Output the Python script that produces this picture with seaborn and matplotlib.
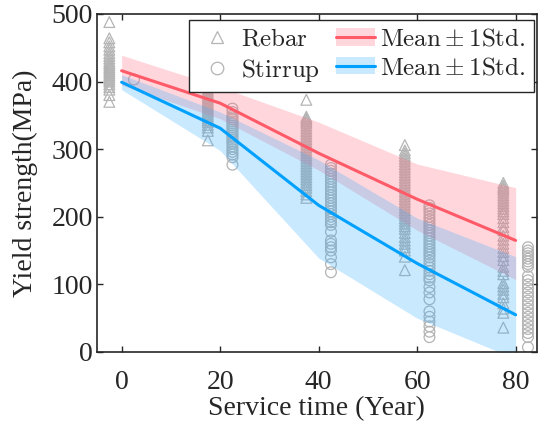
import numpy as np
import pandas as pd
import matplotlib
matplotlib.use("Agg")
import matplotlib.pyplot as plt
import seaborn as sns
from matplotlib.patches import Patch
from matplotlib.lines import Line2D

# ---------------- data ----------------
years = [0, 20, 40, 60, 80]

rebar_y0 = [488, 464, 458, 452, 447, 442, 438, 434, 430, 427, 424, 421, 418, 415,
            412, 409, 406, 403, 400, 396, 392, 388, 380, 370]
rebar_y20 = [398, 392, 388, 385, 382, 379, 376, 373, 370, 367, 364, 361, 358, 355,
             352, 349, 346, 343, 340, 336, 332, 327, 313]
rebar_y40 = [373, 348, 345, 342, 339, 335, 331, 327, 323, 319, 315, 311, 307, 303,
             299, 295, 291, 287, 283, 279, 275, 271, 267, 263, 259, 255, 251, 247,
             243, 238, 233, 228]
rebar_y60 = [306, 298, 294, 290, 286, 282, 278, 274, 270, 266, 262, 258, 254, 250,
             246, 242, 238, 234, 230, 226, 222, 218, 214, 210, 206, 202, 198, 194,
             190, 186, 182, 176, 170, 165, 160, 155, 150, 141, 121]
rebar_y80 = [250, 246, 243, 240, 236, 232, 228, 224, 220, 216, 212, 208, 204, 198,
             192, 185, 180, 172, 166, 160, 154, 148, 142, 136, 126, 120, 115, 102,
             97, 92, 86, 81, 72, 64, 58, 36]

stirrup_y0 = [403]
stirrup_y20 = [360, 355, 350, 347, 344, 341, 338, 335, 332, 329, 326, 323, 320, 317,
               314, 311, 308, 304, 300, 296, 292, 288, 277]
stirrup_y40 = [277, 272, 268, 264, 260, 256, 252, 248, 244, 240, 236, 232, 228, 224,
               220, 216, 212, 208, 204, 200, 196, 192, 188, 178, 165, 160, 155, 150,
               140, 130, 118]
stirrup_y60 = [217, 213, 209, 205, 200, 196, 192, 188, 184, 180, 176, 172, 168, 164,
               160, 156, 152, 148, 144, 140, 135, 130, 125, 120, 115, 110, 106, 96,
               88, 78, 60, 52, 45, 38, 30, 22]
stirrup_y80 = [155, 150, 146, 142, 138, 134, 130, 126, 112, 106, 100, 94, 88, 82, 76,
               70, 64, 58, 52, 46, 40, 34, 28, 22, 7]

rebar_mean = [416, 368, 294, 226, 165]
rebar_upper = [439, 392, 340, 278, 243]
rebar_lower = [395, 345, 269, 180, 107]

stirrup_mean = [399, 331, 217, 131, 55]
stirrup_upper = [410, 355, 284, 198, 141]
stirrup_lower = [388, 298, 139, 50, -10]

xticks = [0, 20, 40, 60, 80]
yticks = [0, 100, 200, 300, 400, 500]

# ---------------- style ----------------
sns.set_style("ticks")
plt.rcParams["font.family"] = ["Liberation Serif", "DejaVu Serif"]
plt.rcParams["mathtext.fontset"] = "cm"

OFFSET = 2.5
GRAY = "#b4b4b4"
RED = "#ff5a68"
BLUE = "#00a0ff"
RED_BAND = "#ff6e82"
BLUE_BAND = "#3db0ff"
BAND_ALPHA = 0.28

rebar_groups = [rebar_y0, rebar_y20, rebar_y40, rebar_y60, rebar_y80]
stirrup_groups = [stirrup_y0, stirrup_y20, stirrup_y40, stirrup_y60, stirrup_y80]

rebar_df = pd.DataFrame({
    "x": np.concatenate([[yr - OFFSET] * len(g) for yr, g in zip(years, rebar_groups)]),
    "y": np.concatenate(rebar_groups),
})
stirrup_df = pd.DataFrame({
    "x": np.concatenate([[yr + OFFSET] * len(g) for yr, g in zip(years, stirrup_groups)]),
    "y": np.concatenate(stirrup_groups),
})
stats = pd.DataFrame({"year": years, "rmean": rebar_mean, "smean": stirrup_mean})

fig = plt.figure(figsize=(5.45, 4.29), dpi=100)
ax = fig.add_axes([0.178, 0.1795, 0.807, 0.788])

sns.scatterplot(data=rebar_df, x="x", y="y", marker="^", s=60, facecolors="none",
                edgecolor=GRAY, linewidth=0.9, ax=ax, zorder=1)
sns.scatterplot(data=stirrup_df, x="x", y="y", marker="o", s=60, facecolors="none",
                edgecolor=GRAY, linewidth=0.9, ax=ax, zorder=1)

ax.fill_between(years, rebar_lower, rebar_upper, color=RED_BAND, alpha=BAND_ALPHA,
                linewidth=0, zorder=2)
ax.fill_between(years, stirrup_lower, stirrup_upper, color=BLUE_BAND, alpha=BAND_ALPHA,
                linewidth=0, zorder=2)

sns.lineplot(data=stats, x="year", y="rmean", color=RED, linewidth=2.2, ax=ax, zorder=3)
sns.lineplot(data=stats, x="year", y="smean", color=BLUE, linewidth=2.2, ax=ax, zorder=3)

ax.set_xlim(-5, 84.3)
ax.set_ylim(0, 500)
ax.set_xticks(xticks)
ax.set_yticks(yticks)
ax.tick_params(direction="in", length=4, width=1.0, labelsize=20, top=True, right=True,
               colors="#262626")
ax.tick_params(axis="x", pad=13)
ax.tick_params(axis="y", pad=3)
ax.tick_params(labeltop=False, labelright=False)
for sp in ax.spines.values():
    sp.set_visible(True)
    sp.set_linewidth(1.2)
    sp.set_color("#262626")

ax.set_xlabel("Service time (Year)", fontsize=20, labelpad=1)
ax.set_ylabel("Yield strength(MPa)", fontsize=20, labelpad=10)

handles = [
    Line2D([], [], marker="^", linestyle="none", markersize=9, markerfacecolor="none",
           markeredgecolor=GRAY, markeredgewidth=0.9),
    Line2D([], [], marker="o", linestyle="none", markersize=9, markerfacecolor="none",
           markeredgecolor=GRAY, markeredgewidth=0.9),
    (Patch(facecolor=RED_BAND, alpha=BAND_ALPHA, linewidth=0),
     Line2D([], [], color=RED, linewidth=2.2)),
    (Patch(facecolor=BLUE_BAND, alpha=BAND_ALPHA, linewidth=0),
     Line2D([], [], color=BLUE, linewidth=2.2)),
]
labels = [r"$\mathrm{Rebar}$", r"$\mathrm{Stirrup}$",
          r"$\mathrm{Mean}\pm\mathrm{1Std.}$", r"$\mathrm{Mean}\pm\mathrm{1Std.}$"]
leg = ax.legend(handles, labels, ncol=2, loc="upper right",
                bbox_to_anchor=(0.993, 0.982), borderaxespad=0, fontsize=18,
                frameon=True, fancybox=False, edgecolor="#262626", framealpha=1,
                handlelength=1.56, handletextpad=0.2, columnspacing=0.64,
                labelspacing=0.25, borderpad=0.32)
leg.get_frame().set_linewidth(1.0)
leg.set_zorder(5)

fig.savefig("out.png", dpi=100)
